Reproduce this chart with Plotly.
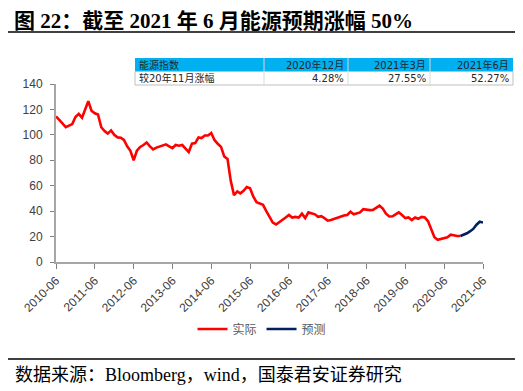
import plotly.graph_objects as go
import pandas as pd

# ---- data ----
actual_values = [
    114.5, 112, 109, 106, 107, 108.5, 114, 116.5, 113.5, 120,
    126.5, 119, 117, 116, 106, 103, 101, 103.5, 100, 98,
    97.8, 96, 91, 87.5, 80, 87.5, 90.5, 92, 94, 91,
    88.5, 90, 91, 92, 92.5, 91, 89.5, 92, 91.5, 92,
    89, 86.5, 93, 93.5, 98, 97.5, 99.5, 99.5, 101.5, 96,
    93, 90.5, 83, 81, 64, 52.5, 55.5, 54, 56, 59,
    58, 51.5, 47, 46, 45, 40, 35, 31, 29.5, 31.5,
    33, 35, 37, 35, 35.5, 35, 38, 34.5, 39, 38.5,
    37.5, 35.5, 36, 34.5, 32.5, 33, 34, 35, 35.5, 36.5,
    37, 39.5, 37.5, 38, 39, 41.5, 41, 40.8, 41, 43,
    44.3, 42, 38, 35.8, 36, 37.5, 39, 37, 34.5, 35,
    33, 35, 34, 35.5, 35, 32, 25, 19.5, 17.5, 18.2,
    19, 19.5, 21.5, 20.8, 20.4, 20.4,
]
forecast_values = [20.4, 21.3, 22.6, 24.2, 26.0, 29.3, 31.7, 31.1]

actual_dates = pd.date_range("2010-06-01", periods=len(actual_values), freq="MS")
forecast_dates = pd.date_range("2020-11-01", periods=len(forecast_values), freq="MS")

tick_vals = pd.date_range("2010-06-01", "2021-06-01", freq="12MS")
tick_text = [d.strftime("%Y-%m") for d in tick_vals]

series_names = ["实际", "预测"]
table_header = ["能源指数", "2020年12月", "2021年3月", "2021年6月"]
table_row = ["较20年11月涨幅", "4.28%", "27.55%", "52.27%"]

title_text = "图 22：截至 2021 年 6 月能源预期涨幅 50%"
source_text = "数据来源：Bloomberg，wind，国泰君安证券研究"

# ---- layout geometry (target pixels; page body adds an 8px margin) ----
OFF = 8
W, H = 523 - OFF, 391 - OFF
PL, PR, PT, PB = 56, 483, 84, 262  # plot area in target-page pixels
pw, ph = PR - PL, PB - PT

def px(x):
    return (x - PL) / pw

def py(y):
    return (PB - y) / ph

fig = go.Figure()
fig.add_trace(go.Scatter(x=actual_dates, y=actual_values, mode="lines",
                         name=series_names[0],
                         line=dict(color="#FF0000", width=2.6)))
fig.add_trace(go.Scatter(x=forecast_dates, y=forecast_values, mode="lines",
                         name=series_names[1],
                         line=dict(color="#002060", width=2.6)))

axis_font = dict(family="Liberation Sans, Arial, sans-serif", size=12, color="#404040")

fig.update_xaxes(
    range=[tick_vals[0], tick_vals[-1]],
    tickvals=tick_vals, ticktext=tick_text, tickangle=-45,
    showline=True, linecolor="#A6A6A6", linewidth=2,
    ticks="outside", ticklen=5, tickcolor="#808080", tickwidth=1,
    showgrid=False, zeroline=False, tickfont=axis_font,
)
fig.update_yaxes(
    range=[0, 140], dtick=20,
    showline=True, linecolor="#A6A6A6", linewidth=2,
    ticks="outside", ticklen=4, tickcolor="#808080", tickwidth=1,
    showgrid=False, zeroline=False, tickfont=axis_font, ticklabelstandoff=5,
)

shapes = []
annotations = []

# title underline and bottom rule
shapes.append(dict(type="line", xref="paper", yref="paper",
                   x0=px(0), x1=px(W + OFF + 10), y0=py(32), y1=py(32),
                   line=dict(color="black", width=1.5)))
shapes.append(dict(type="line", xref="paper", yref="paper",
                   x0=px(0), x1=px(W + OFF + 10), y0=py(359), y1=py(359),
                   line=dict(color="black", width=1.5)))

# table
col_edges = [135, 264, 348, 430, 513]
row_edges = [58, 71.5, 85]
shapes.append(dict(type="rect", xref="paper", yref="paper",
                   x0=px(col_edges[0]), x1=px(col_edges[-1]),
                   y0=py(row_edges[0]), y1=py(row_edges[1]),
                   fillcolor="#00B0F0", line=dict(width=0)))
shapes.append(dict(type="rect", xref="paper", yref="paper",
                   x0=px(col_edges[0]), x1=px(col_edges[-1]),
                   y0=py(row_edges[1]), y1=py(row_edges[2]),
                   fillcolor="white", line=dict(color="#BFBFBF", width=1)))
for xe in col_edges[1:-1]:
    shapes.append(dict(type="line", xref="paper", yref="paper",
                       x0=px(xe), x1=px(xe), y0=py(row_edges[0]), y1=py(row_edges[2]),
                       line=dict(color="#D9D9D9", width=1)))

tfont = dict(family="DejaVu Sans, Noto Sans CJK SC, sans-serif", size=10, color="#262626")
for r, row in enumerate([table_header, table_row]):
    yc = (row_edges[r] + row_edges[r + 1]) / 2
    for c, txt in enumerate(row):
        if c == 0:
            xa, anchor = col_edges[0] + 3, "left"
        else:
            xa, anchor = col_edges[c + 1] - 3, "right"
        annotations.append(dict(xref="paper", yref="paper", x=px(xa), y=py(yc),
                                text=txt, showarrow=False, xanchor=anchor,
                                yanchor="middle", font=tfont, borderpad=0))

# source note
annotations.append(dict(xref="paper", yref="paper", x=px(13), y=py(375),
                        text=source_text, showarrow=False, xanchor="left",
                        yanchor="middle",
                        font=dict(family="Liberation Serif, Noto Sans CJK SC, serif",
                                  size=18, color="black")))

# title
annotations.append(dict(xref="paper", yref="paper", x=px(13), y=py(21),
                        text="<b>" + title_text + "</b>", showarrow=False,
                        xanchor="left", yanchor="middle", borderpad=0,
                        font=dict(family="Liberation Serif, Noto Sans CJK SC, serif",
                                  size=21, color="black")))

fig.update_layout(
    width=W, height=H,
    margin=dict(l=PL - OFF, r=W - (PR - OFF), t=PT - OFF, b=H - (PB - OFF),
                autoexpand=False),
    paper_bgcolor="white", plot_bgcolor="white",
    legend=dict(orientation="h", x=px(262), xanchor="center", y=py(329),
                yanchor="middle", font=dict(family="Noto Sans CJK SC, sans-serif",
                                            size=12, color="#595959"),
                itemwidth=30, bgcolor="rgba(0,0,0,0)"),
    shapes=shapes, annotations=annotations,
    showlegend=True,
)

fig.write_html("out.html")
